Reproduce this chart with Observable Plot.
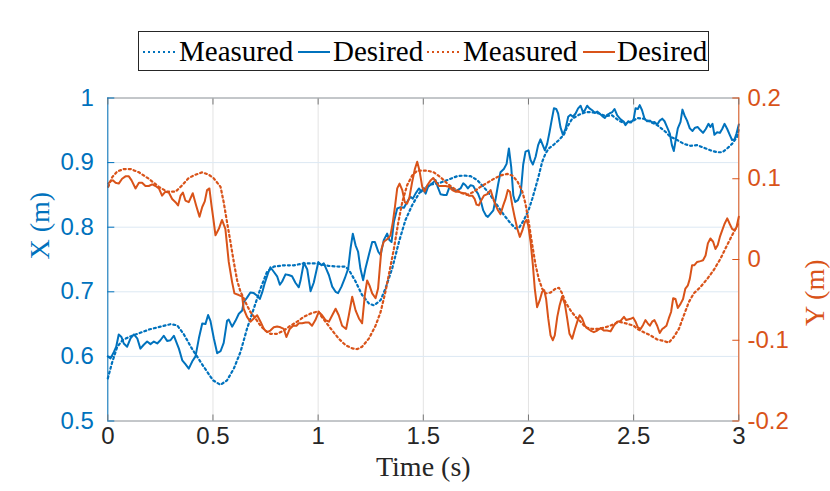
<!DOCTYPE html>
<html><head><meta charset="utf-8">
<script src="https://cdn.jsdelivr.net/npm/d3@7"></script>
<script src="https://cdn.jsdelivr.net/npm/@observablehq/plot@0.6"></script>
<style>
body{margin:0;background:#fff;}
#wrap{position:relative;width:830px;height:491px;overflow:hidden;}
#legend{position:absolute;left:138px;top:31px;width:569px;height:38px;border:1px solid #262626;background:#fff;font-family:"Liberation Serif","Times New Roman",serif;font-size:29px;color:#000;}
.item{position:absolute;top:0;height:38px;line-height:38px;white-space:nowrap;}
.sw{position:absolute;top:18px;}
</style></head><body>
<div id="wrap"><div id="chart"></div><div id="legend"></div></div>
<script>
// ---- data (time s, value m) ----
const xMeasured = [[0,0.566],[0.02,0.59],[0.045,0.615],[0.07,0.625],[0.1,0.63],[0.15,0.636],[0.2,0.642],[0.25,0.646],[0.3,0.65],[0.33,0.648],[0.36,0.635],[0.4,0.612],[0.45,0.587],[0.5,0.563],[0.536,0.556],[0.567,0.563],[0.599,0.581],[0.631,0.607],[0.662,0.643],[0.694,0.674],[0.726,0.705],[0.757,0.731],[0.789,0.739],[0.837,0.741],[0.884,0.741],[0.932,0.744],[0.995,0.744],[1.05,0.74],[1.1,0.739],[1.13,0.739],[1.146,0.734],[1.178,0.716],[1.209,0.695],[1.241,0.682],[1.265,0.679],[1.297,0.687],[1.32,0.705],[1.352,0.736],[1.384,0.777],[1.415,0.811],[1.447,0.834],[1.479,0.852],[1.501,0.86],[1.535,0.866],[1.582,0.869],[1.63,0.875],[1.661,0.879],[1.693,0.88],[1.725,0.879],[1.756,0.873],[1.788,0.862],[1.82,0.849],[1.851,0.834],[1.883,0.819],[1.915,0.806],[1.939,0.798],[1.955,0.799],[1.978,0.811],[2,0.826],[2.018,0.844],[2.034,0.862],[2.049,0.88],[2.065,0.901],[2.081,0.914],[2.097,0.922],[2.121,0.928],[2.145,0.935],[2.168,0.943],[2.184,0.955],[2.208,0.968],[2.24,0.974],[2.271,0.978],[2.303,0.978],[2.335,0.976],[2.366,0.972],[2.398,0.973],[2.43,0.965],[2.461,0.96],[2.5,0.965],[2.517,0.969],[2.548,0.968],[2.58,0.963],[2.612,0.958],[2.644,0.95],[2.675,0.94],[2.707,0.935],[2.739,0.929],[2.77,0.926],[2.802,0.927],[2.834,0.923],[2.865,0.919],[2.897,0.916],[2.921,0.916],[2.945,0.922],[2.968,0.929],[2.992,0.94],[3,0.953]];

const xDesired = [[0,0.6],[0.013,0.597],[0.029,0.607],[0.04,0.615],[0.052,0.634],[0.065,0.63],[0.076,0.62],[0.092,0.615],[0.108,0.628],[0.124,0.634],[0.14,0.628],[0.155,0.612],[0.171,0.618],[0.187,0.623],[0.203,0.619],[0.219,0.623],[0.235,0.62],[0.25,0.625],[0.266,0.632],[0.282,0.624],[0.298,0.625],[0.314,0.632],[0.325,0.623],[0.338,0.612],[0.354,0.594],[0.369,0.588],[0.385,0.581],[0.401,0.592],[0.417,0.6],[0.433,0.628],[0.449,0.651],[0.464,0.65],[0.477,0.664],[0.488,0.655],[0.504,0.628],[0.52,0.605],[0.536,0.608],[0.551,0.621],[0.567,0.655],[0.575,0.657],[0.591,0.646],[0.607,0.655],[0.623,0.666],[0.639,0.671],[0.646,0.684],[0.662,0.691],[0.678,0.699],[0.694,0.698],[0.71,0.694],[0.723,0.689],[0.734,0.699],[0.745,0.712],[0.761,0.728],[0.773,0.738],[0.789,0.731],[0.805,0.724],[0.818,0.711],[0.829,0.716],[0.845,0.727],[0.86,0.726],[0.876,0.724],[0.892,0.714],[0.908,0.707],[0.916,0.717],[0.932,0.745],[0.948,0.735],[0.964,0.701],[0.979,0.714],[1.001,0.746],[1.016,0.741],[1.027,0.744],[1.038,0.736],[1.051,0.726],[1.067,0.708],[1.083,0.7],[1.095,0.698],[1.111,0.708],[1.127,0.721],[1.143,0.736],[1.154,0.767],[1.165,0.79],[1.178,0.772],[1.19,0.762],[1.201,0.736],[1.214,0.718],[1.225,0.736],[1.241,0.757],[1.257,0.777],[1.27,0.777],[1.286,0.762],[1.297,0.757],[1.312,0.78],[1.328,0.79],[1.339,0.78],[1.349,0.777],[1.36,0.808],[1.376,0.829],[1.392,0.831],[1.408,0.83],[1.423,0.839],[1.439,0.847],[1.45,0.844],[1.463,0.852],[1.479,0.86],[1.491,0.855],[1.5,0.858],[1.511,0.852],[1.522,0.862],[1.535,0.866],[1.547,0.869],[1.558,0.873],[1.569,0.862],[1.582,0.851],[1.598,0.85],[1.611,0.85],[1.622,0.86],[1.633,0.861],[1.646,0.857],[1.661,0.857],[1.677,0.86],[1.69,0.868],[1.701,0.865],[1.712,0.86],[1.725,0.865],[1.737,0.864],[1.749,0.857],[1.76,0.852],[1.772,0.842],[1.785,0.826],[1.798,0.818],[1.807,0.816],[1.82,0.821],[1.833,0.826],[1.844,0.844],[1.855,0.865],[1.867,0.885],[1.883,0.89],[1.896,0.898],[1.907,0.922],[1.918,0.893],[1.928,0.849],[1.937,0.839],[1.95,0.842],[1.963,0.852],[1.975,0.897],[1.986,0.917],[2,0.919],[2.01,0.904],[2.021,0.897],[2.034,0.909],[2.046,0.927],[2.057,0.936],[2.068,0.927],[2.078,0.919],[2.089,0.929],[2.1,0.947],[2.11,0.965],[2.121,0.984],[2.132,0.983],[2.141,0.976],[2.152,0.955],[2.164,0.943],[2.176,0.952],[2.189,0.971],[2.2,0.974],[2.211,0.971],[2.224,0.976],[2.236,0.984],[2.248,0.988],[2.259,0.978],[2.268,0.981],[2.279,0.988],[2.29,0.984],[2.303,0.981],[2.316,0.977],[2.327,0.979],[2.338,0.976],[2.351,0.972],[2.363,0.969],[2.374,0.974],[2.385,0.976],[2.398,0.978],[2.409,0.983],[2.422,0.973],[2.438,0.967],[2.454,0.963],[2.461,0.958],[2.474,0.964],[2.487,0.962],[2.5,0.967],[2.509,0.984],[2.52,0.983],[2.529,0.989],[2.54,0.981],[2.552,0.968],[2.564,0.964],[2.577,0.965],[2.588,0.962],[2.599,0.963],[2.612,0.959],[2.624,0.965],[2.636,0.968],[2.647,0.964],[2.659,0.955],[2.672,0.945],[2.682,0.927],[2.691,0.918],[2.701,0.937],[2.71,0.953],[2.723,0.963],[2.732,0.982],[2.742,0.973],[2.754,0.965],[2.767,0.953],[2.78,0.949],[2.792,0.954],[2.805,0.955],[2.818,0.95],[2.83,0.946],[2.843,0.952],[2.856,0.96],[2.865,0.955],[2.875,0.96],[2.884,0.943],[2.897,0.947],[2.91,0.946],[2.921,0.952],[2.932,0.96],[2.945,0.952],[2.957,0.943],[2.968,0.935],[2.98,0.936],[2.989,0.945],[3,0.959]];

const yMeasured = [[0.002,0.09],[0.021,0.102],[0.045,0.109],[0.076,0.112],[0.108,0.112],[0.148,0.108],[0.195,0.1],[0.243,0.09],[0.282,0.084],[0.322,0.084],[0.354,0.092],[0.385,0.101],[0.417,0.105],[0.449,0.108],[0.48,0.105],[0.502,0.101],[0.536,0.09],[0.551,0.071],[0.567,0.046],[0.583,0.022],[0.599,-0.003],[0.615,-0.026],[0.631,-0.04],[0.646,-0.048],[0.662,-0.057],[0.678,-0.065],[0.702,-0.073],[0.726,-0.082],[0.749,-0.088],[0.773,-0.092],[0.805,-0.092],[0.837,-0.088],[0.868,-0.082],[0.9,-0.077],[0.932,-0.071],[0.964,-0.067],[1.001,-0.064],[1.011,-0.069],[1.035,-0.077],[1.067,-0.088],[1.098,-0.098],[1.13,-0.106],[1.162,-0.11],[1.186,-0.111],[1.209,-0.108],[1.241,-0.098],[1.273,-0.082],[1.297,-0.065],[1.32,-0.04],[1.339,-0.015],[1.36,0.013],[1.381,0.046],[1.4,0.071],[1.423,0.092],[1.447,0.104],[1.471,0.11],[1.501,0.11],[1.519,0.11],[1.55,0.108],[1.582,0.102],[1.614,0.094],[1.646,0.088],[1.677,0.083],[1.709,0.08],[1.741,0.084],[1.772,0.09],[1.804,0.095],[1.836,0.1],[1.867,0.104],[1.899,0.106],[1.923,0.104],[1.947,0.097],[1.971,0.084],[1.986,0.069],[2.002,0.045],[2.018,0.018],[2.034,-0.007],[2.049,-0.024],[2.065,-0.036],[2.081,-0.042],[2.105,-0.041],[2.129,-0.036],[2.145,-0.035],[2.16,-0.042],[2.176,-0.053],[2.2,-0.063],[2.224,-0.071],[2.248,-0.077],[2.271,-0.084],[2.303,-0.086],[2.335,-0.086],[2.366,-0.084],[2.398,-0.081],[2.43,-0.077],[2.461,-0.079],[2.5,-0.082],[2.517,-0.086],[2.548,-0.09],[2.58,-0.094],[2.612,-0.099],[2.644,-0.101],[2.667,-0.103],[2.691,-0.096],[2.715,-0.086],[2.739,-0.069],[2.762,-0.053],[2.786,-0.042],[2.818,-0.034],[2.85,-0.024],[2.881,-0.013],[2.913,0.001],[2.945,0.018],[2.968,0.03],[2.989,0.04],[3,0.046]];

const yDesired = [[0.002,0.094],[0.013,0.097],[0.024,0.098],[0.037,0.095],[0.052,0.094],[0.068,0.1],[0.084,0.103],[0.1,0.103],[0.113,0.098],[0.132,0.088],[0.148,0.095],[0.163,0.095],[0.179,0.091],[0.195,0.091],[0.211,0.093],[0.227,0.091],[0.243,0.088],[0.258,0.079],[0.274,0.084],[0.29,0.083],[0.306,0.075],[0.322,0.071],[0.334,0.067],[0.346,0.079],[0.357,0.083],[0.369,0.073],[0.385,0.071],[0.404,0.082],[0.42,0.067],[0.436,0.053],[0.449,0.065],[0.461,0.072],[0.472,0.086],[0.483,0.088],[0.493,0.067],[0.502,0.05],[0.512,0.03],[0.528,0.038],[0.543,0.049],[0.559,0.038],[0.575,-0.003],[0.591,-0.028],[0.602,-0.042],[0.623,-0.044],[0.639,-0.046],[0.646,-0.061],[0.662,-0.071],[0.678,-0.077],[0.694,-0.073],[0.71,-0.069],[0.726,-0.077],[0.742,-0.086],[0.757,-0.09],[0.773,-0.088],[0.789,-0.084],[0.805,-0.083],[0.821,-0.084],[0.837,-0.086],[0.849,-0.096],[0.865,-0.086],[0.881,-0.082],[0.897,-0.082],[0.908,-0.079],[0.924,-0.079],[0.94,-0.078],[0.956,-0.078],[0.971,-0.082],[0.987,-0.075],[1.003,-0.065],[1.019,-0.069],[1.035,-0.075],[1.051,-0.077],[1.067,-0.069],[1.083,-0.061],[1.098,-0.069],[1.114,-0.082],[1.133,-0.086],[1.146,-0.069],[1.162,-0.046],[1.178,-0.063],[1.194,-0.073],[1.209,-0.079],[1.222,-0.044],[1.233,-0.026],[1.244,-0.032],[1.257,-0.042],[1.273,-0.048],[1.285,-0.036],[1.293,-0.011],[1.301,0.013],[1.312,0.022],[1.328,0.025],[1.344,0.03],[1.355,0.046],[1.365,0.065],[1.376,0.088],[1.387,0.094],[1.4,0.086],[1.412,0.071],[1.423,0.069],[1.434,0.077],[1.447,0.096],[1.46,0.112],[1.471,0.121],[1.482,0.11],[1.495,0.09],[1.506,0.084],[1.519,0.092],[1.535,0.098],[1.547,0.101],[1.558,0.097],[1.574,0.091],[1.59,0.091],[1.606,0.091],[1.622,0.09],[1.638,0.086],[1.653,0.084],[1.669,0.084],[1.685,0.082],[1.701,0.082],[1.717,0.079],[1.733,0.079],[1.744,0.075],[1.753,0.068],[1.764,0.067],[1.775,0.073],[1.788,0.079],[1.804,0.081],[1.82,0.086],[1.833,0.075],[1.844,0.067],[1.855,0.061],[1.867,0.056],[1.88,0.067],[1.891,0.075],[1.902,0.086],[1.912,0.084],[1.923,0.067],[1.934,0.053],[1.947,0.038],[1.959,0.028],[1.971,0.036],[1.982,0.046],[1.991,0.049],[1.999,0.042],[2.01,0.022],[2.021,-0.007],[2.03,-0.036],[2.041,-0.059],[2.053,-0.051],[2.065,-0.04],[2.075,-0.038],[2.084,-0.049],[2.094,-0.073],[2.105,-0.094],[2.116,-0.1],[2.125,-0.094],[2.137,-0.071],[2.148,-0.057],[2.16,-0.046],[2.173,-0.055],[2.184,-0.073],[2.195,-0.092],[2.208,-0.098],[2.221,-0.086],[2.232,-0.077],[2.243,-0.069],[2.255,-0.073],[2.268,-0.082],[2.279,-0.085],[2.295,-0.088],[2.311,-0.09],[2.327,-0.088],[2.343,-0.085],[2.358,-0.088],[2.374,-0.088],[2.39,-0.089],[2.406,-0.082],[2.422,-0.077],[2.438,-0.076],[2.454,-0.071],[2.465,-0.075],[2.477,-0.074],[2.49,-0.073],[2.498,-0.072],[2.509,-0.077],[2.52,-0.084],[2.533,-0.086],[2.545,-0.081],[2.556,-0.075],[2.567,-0.079],[2.577,-0.082],[2.588,-0.077],[2.599,-0.075],[2.612,-0.082],[2.624,-0.091],[2.636,-0.086],[2.647,-0.084],[2.656,-0.082],[2.667,-0.073],[2.678,-0.065],[2.688,-0.048],[2.699,-0.049],[2.71,-0.06],[2.723,-0.055],[2.735,-0.049],[2.746,-0.036],[2.758,-0.032],[2.767,-0.024],[2.778,-0.007],[2.789,-0.007],[2.802,-0.003],[2.818,-0.002],[2.83,-0.001],[2.842,0.005],[2.853,0.02],[2.865,0.026],[2.878,0.022],[2.889,0.013],[2.9,0.018],[2.91,0.028],[2.921,0.036],[2.932,0.044],[2.945,0.051],[2.957,0.044],[2.968,0.038],[2.98,0.036],[2.989,0.04],[3,0.053]];

const xTicks = [0, 0.5, 1, 1.5, 2, 2.5, 3];
const leftTicks = [0.5, 0.6, 0.7, 0.8, 0.9, 1];
const rightTicks = [-0.2, -0.1, 0, 0.1, 0.2];
const legendLabels = ["Measured", "Desired", "Measured", "Desired"];

// ---- styling ----
const BLUE = "#0072BD", ORANGE = "#D95319";
const SANS = "'Liberation Sans', Arial, Helvetica, sans-serif";
const SERIF = "'Liberation Serif', 'Times New Roman', serif";
const DOT = "2,3";
// right axis (Y) shares the plot's y scale: [-0.2, 0.2] -> [0.5, 1]
const toLeft = v => 0.75 + v * 1.25;
const fmt = v => (+(+v).toFixed(1)).toString();

const rows = (arr, mapY) => arr.map(([t, v]) => ({t, v: mapY ? toLeft(v) : v}));

const chart = Plot.plot({
  width: 830, height: 491,
  marginLeft: 107.3, marginRight: 91.7, marginTop: 97.5, marginBottom: 70.5,
  style: {background: "#fff", fontFamily: SANS, overflow: "visible"},
  x: {domain: [0, 3]},
  y: {domain: [0.5, 1]},
  marks: [
    Plot.gridX(xTicks, {stroke: "#e3e3e3", strokeOpacity: 1}),
    Plot.gridY(leftTicks, {stroke: "#dce8f3", strokeOpacity: 1}),
    Plot.line(rows(xMeasured), {x: "t", y: "v", stroke: BLUE, strokeWidth: 2.2, strokeDasharray: DOT}),
    Plot.line(rows(xDesired), {x: "t", y: "v", stroke: BLUE, strokeWidth: 2}),
    Plot.line(rows(yMeasured, true), {x: "t", y: "v", stroke: ORANGE, strokeWidth: 2.2, strokeDasharray: DOT}),
    Plot.line(rows(yDesired, true), {x: "t", y: "v", stroke: ORANGE, strokeWidth: 2}),
    Plot.ruleY([0.5, 1], {stroke: "#9a9a9a", strokeWidth: 1}),
    Plot.ruleX([0], {stroke: BLUE, strokeWidth: 1}),
    Plot.ruleX([3], {stroke: ORANGE, strokeWidth: 1}),
    Plot.axisX({anchor: "bottom", ticks: xTicks, tickSize: -6, tickPadding: 12, tickFormat: d => String(d), stroke: "#777", fill: "#262626", fontSize: 24, label: null}),
    Plot.axisX({anchor: "top", ticks: xTicks, tickSize: -6, tickFormat: () => "", stroke: "#777", label: null}),
    Plot.axisY({anchor: "left", ticks: leftTicks, tickSize: -7, tickPadding: 21, tickFormat: fmt, stroke: BLUE, fill: BLUE, fontSize: 24, label: null}),
    Plot.axisY({anchor: "right", ticks: rightTicks.map(toLeft), tickSize: -7, tickPadding: 15.7, tickFormat: d => fmt((d - 0.75) / 1.25), stroke: ORANGE, fill: ORANGE, fontSize: 24, label: null}),
    Plot.text(["Time (s)"], {frameAnchor: "bottom", dy: 55, fontSize: 28, fontFamily: SERIF, fill: "#262626"}),
    Plot.text(["X (m)"], {frameAnchor: "left", dx: -67.5, rotate: -90, fontSize: 28, fontFamily: SERIF, fill: BLUE}),
    Plot.text(["Y (m)"], {frameAnchor: "right", dx: 76, rotate: -90, fontSize: 28, fontFamily: SERIF, fill: ORANGE})
  ]
});
document.getElementById("chart").appendChild(chart);

// ---- legend ----
const legend = document.getElementById("legend");
const swatches = [
  {color: BLUE, dash: DOT, sx: 4, tx: 40},
  {color: BLUE, dash: null, sx: 159, tx: 194},
  {color: ORANGE, dash: DOT, sx: 288, tx: 324},
  {color: ORANGE, dash: null, sx: 444, tx: 478}
];
swatches.forEach((s, i) => {
  const sw = document.createElementNS("http://www.w3.org/2000/svg", "svg");
  sw.setAttribute("width", 32); sw.setAttribute("height", 4);
  sw.setAttribute("class", "sw"); sw.style.left = s.sx + "px";
  const ln = document.createElementNS("http://www.w3.org/2000/svg", "line");
  ln.setAttribute("x1", 0); ln.setAttribute("x2", 32); ln.setAttribute("y1", 2); ln.setAttribute("y2", 2);
  ln.setAttribute("stroke", s.color); ln.setAttribute("stroke-width", 2);
  if (s.dash) ln.setAttribute("stroke-dasharray", s.dash);
  sw.appendChild(ln); legend.appendChild(sw);
  const tx = document.createElement("div");
  tx.className = "item"; tx.style.left = s.tx + "px"; tx.textContent = legendLabels[i];
  legend.appendChild(tx);
});
</script></body></html>
